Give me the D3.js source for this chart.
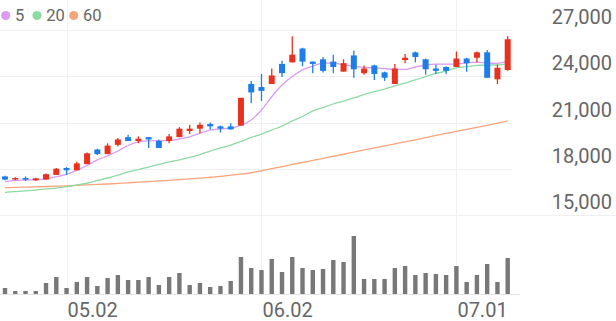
<!DOCTYPE html>
<html><head><meta charset="utf-8">
<script src="https://cdn.jsdelivr.net/npm/d3@7"></script>
<style>body{margin:0;background:#fff}svg{display:block}</style>
</head><body><svg id="c" width="616" height="321"></svg>
<script>
// ---- data ----
const dates = ["04.23","04.24","04.25","04.26","04.27","04.30","05.02","05.03","05.04","05.08",
  "05.09","05.10","05.11","05.14","05.15","05.16","05.17","05.18","05.21","05.22",
  "05.23","05.24","05.25","05.29","05.30","06.02","06.03","06.04","06.05","06.07",
  "06.08","06.11","06.12","06.14","06.15","06.18","06.19","06.20","06.21","06.22",
  "06.25","06.26","06.27","06.28","07.01","07.02","07.03","07.04","07.05","07.06"];
const open  = [17500,17300,17400,17250,17300,17600,18050,17900,18300,19250,
  18950,19550,20050,19800,20050,19800,19800,20050,20450,20600,
  20900,20750,20750,20800,23500,23300,23500,24800,24900,25800,
  24950,25100,24950,24300,25350,24200,24700,24250,23500,25050,
  25550,25100,24500,24600,24600,25150,25200,25550,23800,24400];
const high  = [17550,17450,17500,17420,17700,18050,18100,18450,19050,19300,
  19650,20000,20200,20100,20050,19900,20250,20700,20850,21000,
  21000,20800,20950,22600,23700,24150,24500,25000,26600,25850,
  24950,25250,25400,25100,25650,24700,24750,24300,24800,25450,
  25600,25150,24750,24650,25600,25200,25600,25700,24750,26600];
const low   = [17250,17250,17200,17220,17300,17600,17600,17900,18300,18900,
  18950,19450,19800,19650,19350,19350,19650,20050,20250,20300,
  20550,20350,20550,20800,22250,22400,23500,23950,24900,24650,
  24200,24250,24200,24300,23900,24100,23750,23700,23500,24850,
  24900,24100,24150,24150,24600,24300,24900,23900,23500,24350];
const close = [17300,17400,17300,17380,17650,18000,17900,18350,19000,18950,
  19500,19900,19800,19950,19900,19350,20100,20600,20600,20850,
  20750,20600,20550,22600,22950,23050,24050,24200,25400,24950,
  24800,24350,24600,24850,24450,24500,24150,23900,24500,25200,
  25250,24450,24350,24350,25150,24850,25550,23900,24550,26400];
const volume = [6,3,3,3,11,17,6,12,17,8,
  16,19,14,14,17,9,17,21,9,11,
  7,8,13,37,26,24,35,22,37,26,
  24,25,34,32,58,15,15,15,26,28,
  19,21,20,19,28,12,19,30,12,36].map(v => v * 1000);
const ma5  = [17160,17240,17270,17290,17350,17480,17640,17890,18210,18570,
  18830,19150,19510,19740,19810,19820,19820,19930,20070,20300,
  20510,20590,20640,20810,21160,21810,22670,23430,23980,24410,
  24660,24850,24860,24740,24650,24570,24540,24490,24440,24440,
  24600,24730,24790,24790,24790,24860,24920,24860,24840,24990];
const ma20 = [16470,16520,16570,16620,16690,16750,16840,16950,17060,17240,
  17400,17590,17790,17950,18110,18280,18440,18570,18730,18920,
  19150,19350,19540,19770,20030,20250,20510,20770,21100,21390,
  21750,21970,22200,22390,22590,22820,23010,23170,23370,23560,
  23760,23980,24180,24340,24540,24630,24700,24730,24730,24830];
const ma60 = [16770,16790,16810,16830,16850,16870,16890,16920,16950,16980,
  17010,17050,17090,17130,17170,17210,17250,17300,17340,17390,
  17450,17510,17580,17650,17740,17870,18010,18140,18280,18410,
  18540,18680,18810,18940,19080,19220,19350,19480,19620,19750,
  19880,20020,20160,20290,20420,20560,20690,20820,20960,21100];
const priceTicks = [15000,18000,21000,24000,27000];
const xTickIdx = [6,25,44];
const legendNames = ["5","20","60"];

// ---- styles ----
const RED = "#e8311f", BLUE = "#1d7ee9";
const maColors = ["#d99cf0","#8fd9a4","#f7a47c"];

const svg = d3.select("#c");
const W = 616;
const x = d3.scaleLinear().domain([0, dates.length - 1]).range([5, 507.7]);
const y = d3.scaleLinear().domain([15000, 27000]).range([215, 30]);
const yv = d3.scaleLinear().domain([0, 64000]).range([294, 230]);

// grid
const g = svg.append("g");
g.selectAll("line.h").data(priceTicks).join("line")
  .attr("x1", 0).attr("x2", d => d === 15000 ? W : 512)
  .attr("y1", d => Math.round(y(d)) + 0.5).attr("y2", d => Math.round(y(d)) + 0.5)
  .attr("stroke", "#efefef").attr("stroke-width", 1);
g.selectAll("line.v").data(xTickIdx).join("line")
  .attr("x1", d => Math.round(x(d)) + 0.5).attr("x2", d => Math.round(x(d)) + 0.5)
  .attr("y1", 0).attr("y2", 294)
  .attr("stroke", "#f0f0f0").attr("stroke-width", 1);
// volume baseline
svg.append("line").attr("x1", 0).attr("x2", 520).attr("y1", 294.5).attr("y2", 294.5)
  .attr("stroke", "#e3e3e3");

// y labels
svg.append("g").selectAll("text").data(priceTicks).join("text")
  .attr("x", 612).attr("y", d => y(d) - 6)
  .attr("text-anchor", "end")
  .attr("font-family", "Roboto, sans-serif").attr("font-size", 20)
  .attr("fill", "#666")
  .text(d => d3.format(",")(d));

// x labels
svg.append("g").selectAll("text").data(xTickIdx).join("text")
  .attr("x", d => x(d) + 1).attr("y", 317)
  .attr("font-family", "Roboto, sans-serif").attr("font-size", 20)
  .attr("fill", "#666")
  .text(d => dates[d]);

// volume bars
svg.append("g").selectAll("rect").data(volume).join("rect")
  .attr("x", (d, i) => x(i) - 2.2).attr("width", 4.4)
  .attr("y", d => yv(d)).attr("height", d => yv(0) - yv(d))
  .attr("fill", "#787878");

// moving averages
const maList = [ma5, ma20, ma60];
const line = d3.line().x((d, i) => x(i)).y(d => y(d)).curve(d3.curveMonotoneX);
svg.append("g").selectAll("path").data(maList.slice().reverse()).join("path")
  .attr("d", d => line(d))
  .attr("fill", "none")
  .attr("stroke", (d, i) => maColors[2 - i])
  .attr("stroke-width", 1.3);

// candles
const idx = d3.range(dates.length);
const cg = svg.append("g").selectAll("g").data(idx).join("g");
cg.append("line")
  .attr("x1", i => x(i)).attr("x2", i => x(i))
  .attr("y1", i => y(high[i])).attr("y2", i => y(low[i]))
  .attr("stroke", i => close[i] >= open[i] ? RED : BLUE).attr("stroke-width", 1.3);
cg.append("rect")
  .attr("x", i => x(i) - 3).attr("width", 6)
  .attr("y", i => y(Math.max(open[i], close[i])))
  .attr("height", i => Math.max(1.5, Math.abs(y(open[i]) - y(close[i]))))
  .attr("fill", i => close[i] >= open[i] ? RED : BLUE);

// legend
const lg = svg.append("g");
const lx = [5.7, 37, 73.7];
legendNames.forEach((n, k) => {
  lg.append("circle").attr("cx", lx[k]).attr("cy", 15.5).attr("r", 4.6).attr("fill", maColors[k]);
  lg.append("text").attr("x", lx[k] + 9.3).attr("y", 21)
    .attr("font-family", "Roboto, sans-serif").attr("font-size", 16.5)
    .attr("fill", "#666").text(n);
});
</script></body></html>
